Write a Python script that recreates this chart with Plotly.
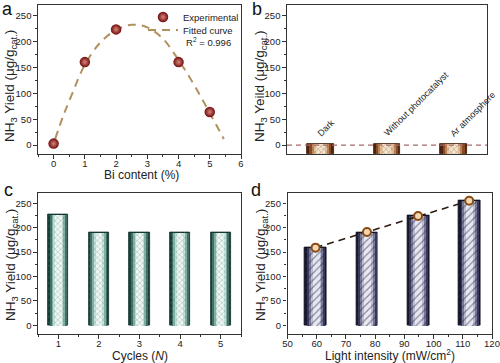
import plotly.graph_objects as go
from plotly.subplots import make_subplots

# ---------------- data ----------------
bi_content = [0, 1, 2, 4, 5]
bi_yield = [3, 160, 223, 160, 64]
fit_x = [0.05, 0.3, 0.6, 1.0, 1.5, 2.0, 2.5, 3.0, 3.5, 4.0, 4.5, 5.0, 5.45]
fit_y = [12, 55, 100, 155, 198, 222, 232, 227, 205, 164, 116, 62, 12]
r2_label = "R<sup>2</sup> = 0.996"

control_labels = ["Dark", "Without photocatalyst", "Ar atmosphere"]
control_yield = [1.5, 1.5, 1.5]

cycles = [1, 2, 3, 4, 5]
cycle_yield = [227, 190, 190, 190, 190]

intensity = [59.6, 77.2, 94.7, 112.2]
intensity_yield = [159, 191, 224, 255]

# ---------------- style ----------------
W, H = 500, 363
FONT = "Liberation Sans, Arial, sans-serif"
AX = "#333333"
YRANGE_TOP = [-17, 270]
YRANGE_BOT = [-18, 272]


def px_x(p):
    return p / W


def px_y(p):
    return 1 - p / H


fig = make_subplots(rows=2, cols=2)

# panel a -------------------------------------------------------------
fig.add_trace(go.Scatter(
    x=fit_x, y=fit_y, mode="lines", name="Fitted curve", legend="legend2",
    line=dict(color="#b3915f", width=2, dash="8px,6px", shape="spline"),
), row=1, col=1)
fig.add_trace(go.Scatter(
    x=bi_content, y=bi_yield, mode="markers", name="Experimental",
    legend="legend",
    marker=dict(size=10.5, color="#6e0b0b",
                gradient=dict(type="radial", color="#d9867a"),
                line=dict(width=0)),
), row=1, col=1)


def cyl_bars(x, y, row, col, width, colors, pat_shape, pat_fg, base=None,
             outline="#222222"):
    n = len(colors)
    for i, c in enumerate(colors):
        frac = 1 - i * (0.85 / n)
        fig.add_trace(go.Bar(
            x=x, y=y, base=base, width=width * frac,
            marker=dict(color=c,
                        line=dict(width=0.8 if i == 0 else 0, color=outline),
                        pattern=dict(shape=pat_shape, fgcolor=pat_fg,
                                     bgcolor=c, size=4 if pat_shape == "x" else 5,
                                     solidity=0.25)),
            showlegend=False, hoverinfo="skip",
        ), row=row, col=col)


# panel b -------------------------------------------------------------
ctrl_x = list(range(1, len(control_labels) + 1))
base_b = YRANGE_TOP[0]
cyl_bars(ctrl_x, [v - base_b for v in control_yield], 1, 2, 0.4,
         ["#4a200c", "#8a4a22", "#c08860", "#e4c4a0", "#f4e4cc"],
         "x", "#7a4a2a", base=[base_b] * len(ctrl_x), outline="#3a1808")

# panel c -------------------------------------------------------------
cyl_bars(cycles, cycle_yield, 2, 1, 0.5,
         ["#163c36", "#3f6e65", "#86b2a8", "#c8e2d9", "#eef7f3"],
         "x", "#4f7f75", outline="#10302a")

# panel d -------------------------------------------------------------
cyl_bars(intensity, intensity_yield, 2, 2, 7.5,
         ["#15152e", "#3a3a5c", "#7a7a9a", "#bcbcd2", "#e8e8f2"],
         "/", "#2a2a44", outline="#101020")
fig.add_trace(go.Scatter(
    x=intensity, y=intensity_yield, mode="lines+markers", showlegend=False,
    line=dict(color="#2b1a10", width=1.6, dash="7px,5px"),
    marker=dict(size=8, color="#f0d8b0", line=dict(width=2, color="#8a4a14")),
), row=2, col=2)

# ---------------- axes ----------------
common = dict(showline=True, linecolor=AX, linewidth=1.3, mirror=True,
              ticks="outside", ticklen=3.5, tickwidth=1, tickcolor=AX,
              showgrid=False, zeroline=False, automargin=False,
              tickfont=dict(family=FONT, size=9.5, color="#222"))

doms = {
    (1, 1): ([px_x(38), px_x(241)], [px_y(154), px_y(5)]),
    (1, 2): ([px_x(287), px_x(487)], [px_y(154), px_y(5)]),
    (2, 1): ([px_x(38), px_x(241)], [px_y(334), px_y(192.5)]),
    (2, 2): ([px_x(287.5), px_x(492)], [px_y(334), px_y(192.5)]),
}
for (r, c), (dx, dy) in doms.items():
    fig.update_xaxes(domain=dx, row=r, col=c, ticklabelstandoff=-3, **common)
    fig.update_yaxes(domain=dy, row=r, col=c, **common,
                     tickvals=[0, 50, 100, 150, 200, 250],
                     minor=dict(ticks="outside", ticklen=2, dtick=25,
                                tickcolor=AX))

fig.update_xaxes(range=[-0.5, 6], dtick=1, tick0=0,
                 minor=dict(ticks="outside", ticklen=2, dtick=0.5, tickcolor=AX),
                 row=1, col=1)
fig.update_yaxes(range=YRANGE_TOP, row=1, col=1)
fig.update_xaxes(range=[0.5, len(control_labels) + 0.5], showticklabels=False,
                 ticks="", row=1, col=2)
fig.update_yaxes(range=YRANGE_TOP, row=1, col=2)
fig.update_xaxes(range=[0.5, 5.5], tickvals=cycles,
                 minor=dict(ticks="outside", ticklen=2, dtick=0.5, tick0=0.5,
                            tickcolor=AX),
                 row=2, col=1)
fig.update_yaxes(range=YRANGE_BOT, row=2, col=1)
fig.update_xaxes(range=[50, 120], dtick=10, tick0=50,
                 minor=dict(ticks="outside", ticklen=2, dtick=5, tickcolor=AX),
                 row=2, col=2)
fig.update_yaxes(range=YRANGE_BOT, row=2, col=2)

# zero reference line in b
fig.add_shape(type="line", xref="x2 domain", yref="y2", x0=0, x1=1, y0=0, y1=0,
              line=dict(color="#a86a6a", width=1.4, dash="5px,4px"), layer="above")

# ---------------- annotations ----------------
ann = []
ytitle = "NH<sub>3</sub> Yield (μg/g<sub>cat.</sub>)"
ytitle_b = "NH<sub>3</sub> Yeild (μg/g<sub>cat.</sub>)"
for xp, yp, t in [(11, 86, ytitle), (261, 86, ytitle_b),
                  (11, 265, ytitle), (261, 265, ytitle)]:
    ann.append(dict(text=t, x=px_x(xp), y=px_y(yp), xref="paper", yref="paper",
                    xanchor="center", yanchor="middle",
                    textangle=-90, showarrow=False,
                    font=dict(family=FONT, size=13.5, color="#222")))
for xp, yp, t in [(141, 175, "Bi content (%)"), (140, 355.5, "Cycles (<i>N</i>)"),
                  (390, 355, "Light intensity (mW/cm<sup>2</sup>)")]:
    ann.append(dict(text=t, x=px_x(xp), y=px_y(yp), xref="paper", yref="paper",
                    xanchor="center", yanchor="middle",
                    showarrow=False, font=dict(family=FONT, size=12, color="#222")))
for xp, yp, t in [(7, 9, "a"), (257, 9, "b"), (8, 190, "c"), (256, 190, "d")]:
    ann.append(dict(text=t, x=px_x(xp), y=px_y(yp), xref="paper", yref="paper",
                    xanchor="center", yanchor="middle",
                    showarrow=False, font=dict(family=FONT, size=18, color="#111")))
for xi, lab in zip(ctrl_x, control_labels):
    ann.append(dict(text=lab, x=xi - 0.12, y=8, xref="x2", yref="y2",
                    xanchor="left", yanchor="bottom", textangle=-45,
                    showarrow=False, font=dict(family=FONT, size=9, color="#222")))
ann.append(dict(text=r2_label, x=px_x(184), y=px_y(42), xref="paper", yref="paper",
                xanchor="left", yanchor="middle", showarrow=False,
                font=dict(family=FONT, size=9.5, color="#222")))

leg_common = dict(xanchor="left", yanchor="middle", bgcolor="rgba(0,0,0,0)",
                  font=dict(family=FONT, size=9.5, color="#222"),
                  itemwidth=30, borderwidth=0)

fig.update_layout(
    width=W, height=H, margin=dict(l=0, r=0, t=0, b=0, autoexpand=False),
    paper_bgcolor="white", plot_bgcolor="white",
    barmode="overlay", bargap=0,
    annotations=ann,
    showlegend=True,
    legend=dict(x=px_x(143), y=px_y(17), **leg_common),
    legend2=dict(x=px_x(143), y=px_y(30), **leg_common),
    font=dict(family=FONT),
)

fig.write_html("out.html", config={"displayModeBar": False},
               post_script="document.body.style.margin='0';")
